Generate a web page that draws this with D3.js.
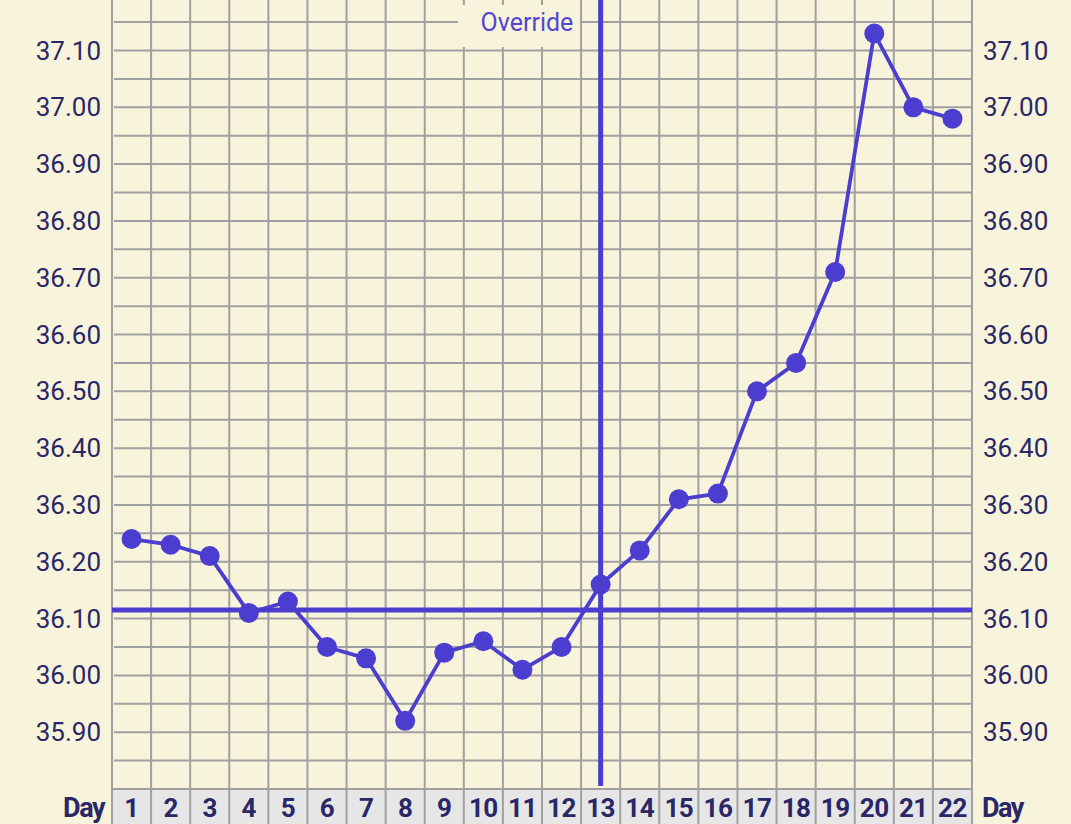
<!DOCTYPE html>
<html>
<head>
<meta charset="utf-8">
<script src="https://cdn.jsdelivr.net/npm/d3@7"></script>
<style>
  body { margin: 0; background: #f8f4dc; }
  svg { display: block; font-family: Roboto, "Noto Sans", sans-serif; }
</style>
</head>
<body>
<div id="chart"></div>
<script>
// chart size
var w = 1071;
var h = 824;

// days along the bottom
var days = d3.range(1, 23);

// temperature readings, one per day
var temps = [36.24, 36.23, 36.21, 36.11, 36.13, 36.05, 36.03, 35.92, 36.04, 36.06, 36.01,
             36.05, 36.16, 36.22, 36.31, 36.32, 36.50, 36.55, 36.71, 37.13, 37.00, 36.98];

// tick labels on both sides
var tickValues = [35.90, 36.00, 36.10, 36.20, 36.30, 36.40, 36.50, 36.60, 36.70, 36.80, 36.90, 37.00, 37.10];

// cover line and override day
var coverLine = 36.115;
var overrideDay = 13;
var overrideLabel = "Override";

var data = days.map(function(d, i) { return { day: d, temp: temps[i] }; });

var xScale = d3.scaleBand()
  .domain(days)
  .range([112, 972]);

var yScale = d3.scaleLinear()
  .domain([35.80, 37.10])
  .range([789, 50.5]);

var svg = d3.select("#chart")
  .append("svg")
  .attr("width", w)
  .attr("height", h);

svg.append("rect")
  .attr("width", w)
  .attr("height", h)
  .attr("fill", "#f8f4dc");

var gridColor = "#a0a0a0";
var textColor = "#2a2766";
var lineColor = "#4b3dcf";

// day band at the bottom
svg.selectAll("rect.dayCell")
  .data(days)
  .enter()
  .append("rect")
  .attr("class", "dayCell")
  .attr("x", function(d) { return xScale(d); })
  .attr("y", yScale(35.80))
  .attr("width", xScale.bandwidth())
  .attr("height", h - yScale(35.80))
  .attr("fill", "#e6e6e6");

// horizontal grid every 0.05
var gridY = d3.range(0, 28).map(function(i) { return +(35.85 + i * 0.05).toFixed(2); });
svg.selectAll("line.hgrid")
  .data(gridY)
  .enter()
  .append("line")
  .attr("class", "hgrid")
  .attr("x1", 114)
  .attr("x2", 972)
  .attr("y1", function(d) { return yScale(d); })
  .attr("y2", function(d) { return yScale(d); })
  .attr("stroke", gridColor)
  .attr("stroke-width", 2);

// top of day band
svg.append("line")
  .attr("x1", 112)
  .attr("x2", 972)
  .attr("y1", yScale(35.80))
  .attr("y2", yScale(35.80))
  .attr("stroke", gridColor)
  .attr("stroke-width", 2);

// vertical grid on column borders
var gridX = days.map(function(d) { return xScale(d); }).concat([xScale.range()[1]]);
svg.selectAll("line.vgrid")
  .data(gridX)
  .enter()
  .append("line")
  .attr("class", "vgrid")
  .attr("x1", function(d) { return d; })
  .attr("x2", function(d) { return d; })
  .attr("y1", 0)
  .attr("y2", h)
  .attr("stroke", gridColor)
  .attr("stroke-width", 2);

// override label box hides the grid behind it
var ovX = 527;
svg.append("rect")
  .attr("x", ovX - 69)
  .attr("y", 5)
  .attr("width", 122)
  .attr("height", 42)
  .attr("fill", "#f8f4dc");

svg.append("text")
  .attr("x", ovX)
  .attr("y", 31)
  .attr("text-anchor", "middle")
  .attr("fill", "#5346d2")
  .attr("font-size", 25)
  .text(overrideLabel);

// y labels left
svg.selectAll("text.yLeft")
  .data(tickValues)
  .enter()
  .append("text")
  .attr("class", "yLeft")
  .attr("x", 101)
  .attr("y", function(d) { return yScale(d) + 9; })
  .attr("text-anchor", "end")
  .attr("fill", textColor)
  .attr("font-size", 26)
  .text(d3.format(".2f"));

// y labels right
svg.selectAll("text.yRight")
  .data(tickValues)
  .enter()
  .append("text")
  .attr("class", "yRight")
  .attr("x", 983)
  .attr("y", function(d) { return yScale(d) + 9; })
  .attr("text-anchor", "start")
  .attr("fill", textColor)
  .attr("font-size", 26)
  .text(d3.format(".2f"));

// day numbers
svg.selectAll("text.dayNo")
  .data(days)
  .enter()
  .append("text")
  .attr("class", "dayNo")
  .attr("x", function(d) { return xScale(d) + xScale.bandwidth() / 2; })
  .attr("y", 817)
  .attr("text-anchor", "middle")
  .attr("fill", textColor)
  .attr("font-size", 26)
  .attr("font-weight", "bold")
  .attr("letter-spacing", -0.5)
  .text(function(d) { return d; });

svg.append("text")
  .attr("x", 104)
  .attr("y", 817)
  .attr("text-anchor", "end")
  .attr("fill", textColor)
  .attr("font-size", 27)
  .attr("font-weight", "bold")
  .attr("letter-spacing", -1.5)
  .text("Day");

svg.append("text")
  .attr("x", 982)
  .attr("y", 817)
  .attr("text-anchor", "start")
  .attr("fill", textColor)
  .attr("font-size", 27)
  .attr("font-weight", "bold")
  .attr("letter-spacing", -1.5)
  .text("Day");

// cover line
svg.append("line")
  .attr("x1", 112)
  .attr("x2", 972)
  .attr("y1", yScale(coverLine))
  .attr("y2", yScale(coverLine))
  .attr("stroke", lineColor)
  .attr("stroke-width", 5);

// override day line
var odX = xScale(overrideDay) + xScale.bandwidth() / 2;
svg.append("line")
  .attr("x1", odX)
  .attr("x2", odX)
  .attr("y1", 0)
  .attr("y2", 786)
  .attr("stroke", lineColor)
  .attr("stroke-width", 5);

// temperature line
var line = d3.line()
  .x(function(d) { return xScale(d.day) + xScale.bandwidth() / 2; })
  .y(function(d) { return yScale(d.temp); });

svg.append("path")
  .datum(data)
  .attr("d", line)
  .attr("fill", "none")
  .attr("stroke", lineColor)
  .attr("stroke-width", 3.8)
  .attr("stroke-linejoin", "round");

svg.selectAll("circle.pt")
  .data(data)
  .enter()
  .append("circle")
  .attr("class", "pt")
  .attr("cx", function(d) { return xScale(d.day) + xScale.bandwidth() / 2; })
  .attr("cy", function(d) { return yScale(d.temp); })
  .attr("r", 10)
  .attr("fill", lineColor);
</script>
</body>
</html>
